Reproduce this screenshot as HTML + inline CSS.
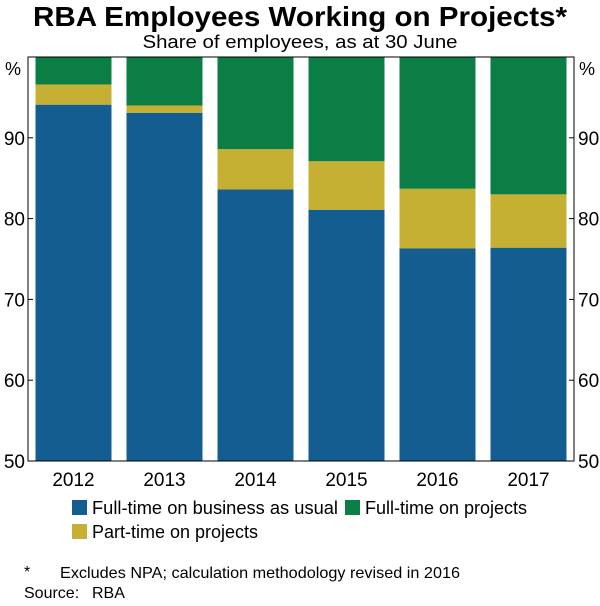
<!DOCTYPE html>
<html><head><meta charset="utf-8"><style>
body{margin:0;background:#fff;}
svg text{font-family:"Liberation Sans",Arial,sans-serif;fill:#000;}
</style></head><body>
<svg width="600" height="601" xmlns="http://www.w3.org/2000/svg">
<text x="300" y="26" text-anchor="middle" font-size="28" font-weight="bold" textLength="534" lengthAdjust="spacingAndGlyphs">RBA Employees Working on Projects*</text>
<text x="300" y="48" text-anchor="middle" font-size="18" textLength="315" lengthAdjust="spacingAndGlyphs">Share of employees, as at 30 June</text>
<g id="plot"></g>
<rect x="28" y="57" width="546" height="404" fill="none" stroke="#000" stroke-width="1"/>
<text x="5" y="75" font-size="18">%</text>
<text x="579" y="75" font-size="18">%</text>
<rect x="72" y="500" width="15" height="15" fill="#135d90"/>
<text x="92" y="514" font-size="18" textLength="246" lengthAdjust="spacingAndGlyphs">Full-time on business as usual</text>
<rect x="345" y="500" width="15" height="15" fill="#0b7e45"/>
<text x="365" y="514" font-size="18">Full-time on projects</text>
<rect x="72" y="524" width="15" height="15" fill="#c6b033"/>
<text x="92" y="538" font-size="18">Part-time on projects</text>
<text x="24" y="577" font-size="16">*</text>
<text x="60" y="578" font-size="16" textLength="400" lengthAdjust="spacingAndGlyphs">Excludes NPA; calculation methodology revised in 2016</text>
<text x="24" y="598" font-size="16">Source:</text>
<text x="92" y="598" font-size="16">RBA</text>
</svg>
<script>
const categories=["2012","2013","2014","2015","2016","2017"];
const ftBau=[94.1,93.1,83.6,81.1,76.3,76.4];
const ptProjects=[2.5,0.9,5.0,6.0,7.4,6.6];
const ftProjects=[3.4,6.0,11.4,12.9,16.3,17.0];
const yTicks=[50,60,70,80,90];
const NS="http://www.w3.org/2000/svg";
const g=document.getElementById('plot');
const X0=28,X1=574,Y0=461,Y1=57,YMIN=50,YMAX=100;
const y=v=>Y0-(v-YMIN)/(YMAX-YMIN)*(Y0-Y1);
const step=(X1-X0)/categories.length;
const bw=76;
const x=i=>X0+step*i+(step-bw)/2;
function el(tag,attrs){const e=document.createElementNS(NS,tag);for(const k in attrs)e.setAttribute(k,attrs[k]);g.appendChild(e);return e;}
const series=[[ftBau,"#135d90","ft-bau"],[ptProjects,"#c6b033","pt-projects"],[ftProjects,"#0b7e45","ft-projects"]];
categories.forEach((c,i)=>{
  let base=0;
  series.forEach(([arr,col,nm])=>{
    const lo=Math.max(base,YMIN),hi=Math.min(base+arr[i],YMAX);base+=arr[i];
    if(hi<=lo)return;
    const r=el('rect',{x:x(i),y:y(hi),width:bw,height:y(lo)-y(hi),fill:col});
    
    
  });
  const t=el('text',{x:x(i)+bw/2,y:486,'text-anchor':'middle','font-size':'19'});
  t.textContent=c;
  
  
});
yTicks.forEach(v=>{
  const tl=el('text',{x:25,y:y(v)+7,'text-anchor':'end','font-size':'19'});tl.textContent=v;
  
  
  const tr=el('text',{x:578,y:y(v)+7,'font-size':'19'});tr.textContent=v;
  
  
  const a=el('line',{x1:X0,x2:X0+5,y1:y(v),y2:y(v),stroke:'#000'});
  
  
  const b=el('line',{x1:X1-5,x2:X1,y1:y(v),y2:y(v),stroke:'#000'});
  
  
});
</script>
</body></html>
